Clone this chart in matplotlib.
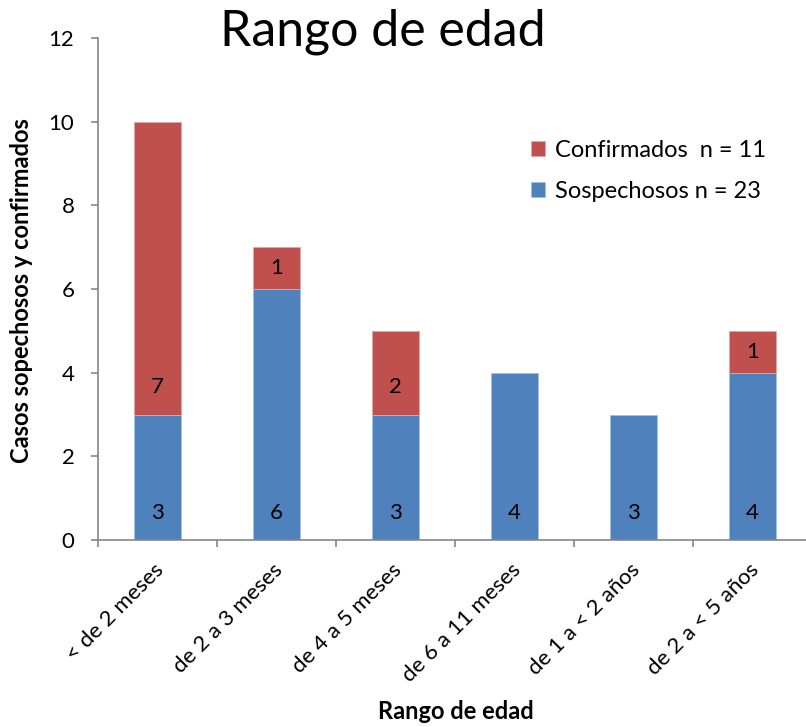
import matplotlib.pyplot as plt
import matplotlib.transforms as mtransforms
import numpy as np

plt.rcParams['font.family'] = ['Lato', 'DejaVu Sans']

# datos
categorias = ['< de 2 meses', 'de 2 a 3 meses', 'de 4 a 5 meses',
              'de 6 a 11 meses', 'de 1 a < 2 años', 'de 2 a < 5 años']
sospechosos = [3, 6, 3, 4, 3, 4]
confirmados = [7, 1, 2, 0, 0, 1]
yticks = [0, 2, 4, 6, 8, 10, 12]

azul = '#4F81BD'
rojo = '#C0504D'
gris = '#868686'

fig = plt.figure(figsize=(8.06, 7.27), dpi=100)
ax = fig.add_axes([0.1216, 0.2572, 0.886, 0.6905])

x = np.arange(len(categorias))
ax.bar(x, sospechosos, width=0.4, color=azul, edgecolor='#A7BFDE', linewidth=0.6,
       label='Sospechosos n = 23', zorder=2)
ax.bar(x, confirmados, width=0.4, bottom=sospechosos, color=rojo, edgecolor='#E0A9A8',
       linewidth=0.6, label='Confirmados  n = 11', zorder=2)

# etiquetas de valores (base interior)
for i in range(len(x)):
    ax.text(x[i], min(0.65, sospechosos[i] / 2), str(sospechosos[i]),
            ha='center', va='center', fontsize=16, color='black', zorder=3)
    if confirmados[i] > 0:
        ax.text(x[i], sospechosos[i] + min(0.65, confirmados[i] / 2), str(confirmados[i]),
                ha='center', va='center', fontsize=16, color='black', zorder=3)

ax.set_xlim(-0.5, 5.5)
ax.set_ylim(0, 12)
ax.set_yticks(yticks)
ax.set_xticks(np.arange(-0.5, 6.0, 1.0))
ax.set_xticklabels([])
ax.set_xticks(x, categorias, minor=True)
ax.tick_params(axis='x', which='minor', length=0, pad=14, labelsize=16)
ax.tick_params(axis='x', which='major', length=5, color=gris, width=1.2)
ax.tick_params(axis='y', length=5, color=gris, width=1.2, pad=12, labelsize=16)
offset = mtransforms.ScaledTranslation(-4 / 100, 0, fig.dpi_scale_trans)
for lab in ax.get_xticklabels(minor=True):
    lab.set_rotation(45)
    lab.set_ha('right')
    lab.set_rotation_mode('anchor')
    lab.set_transform(lab.get_transform() + offset)

for s in ['top', 'right']:
    ax.spines[s].set_visible(False)
for s in ['left', 'bottom']:
    ax.spines[s].set_color(gris)
    ax.spines[s].set_linewidth(1.2)

fig.text(0.475, 0.956, 'Rango de edad', ha='center', va='center', fontsize=36)
fig.text(0.027, 0.601, 'Casos sopechosos y confirmados', rotation=90, ha='center',
         va='center', fontsize=17, fontweight='bold')
fig.text(0.566, 0.021, 'Rango de edad', ha='center', va='center', fontsize=17,
         fontweight='bold')

h, l = ax.get_legend_handles_labels()
ax.legend(h[::-1], l[::-1], loc='upper left', bbox_to_anchor=(0.59, 0.82), frameon=False,
          fontsize=17, handlelength=0.6, handleheight=0.6, handletextpad=0.4,
          labelspacing=0.85, borderpad=0)

fig.savefig('out.png', dpi=100)
